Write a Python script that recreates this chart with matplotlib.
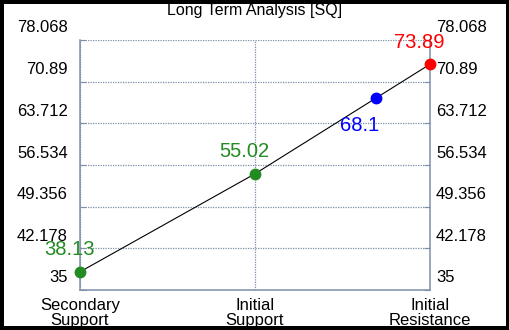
import matplotlib
matplotlib.use("Agg")
import matplotlib.pyplot as plt
from matplotlib.transforms import blended_transform_factory, ScaledTranslation

plt.rcParams["font.family"] = ["Liberation Sans", "DejaVu Sans"]

# ── Data ──────────────────────────────────────────────────────────────────────
categories = ["Secondary\nSupport", "Initial\nSupport", "Initial\nResistance"]
level_values = [38.13, 55.02, 73.89]
level_colors = ["#228b22", "#228b22", "red"]
current_value = 68.1
current_color = "blue"
y_ticks = [35, 42.178, 49.356, 56.534, 63.712, 70.89, 78.068]
y_labels = ["35", "42.178", "49.356", "56.534", "63.712", "70.89", "78.068"]
title = "Long Term Analysis [SQ]"

AXIS_COLOR = "#7f8fa9"

# current price sits on the segment between initial support and resistance
cur_x = 1 + (current_value - level_values[1]) / (level_values[2] - level_values[1])

fig = plt.figure(figsize=(5.1, 3.3), dpi=100)
fig.patch.set_facecolor("white")
fig.patch.set_edgecolor("black")
fig.patch.set_linewidth(4.5)
ax = fig.add_axes([80 / 510, 40 / 330, 350 / 510, 250 / 330])

xs = [0, 1, cur_x, 2]
ys = [level_values[0], level_values[1], current_value, level_values[2]]
ax.plot(xs, ys, color="black", lw=0.8, zorder=3)

for i, (v, c) in enumerate(zip(level_values, level_colors)):
    ax.plot(i, v, "o", color=c, ms=7.5, zorder=4, clip_on=False)
    ax.annotate(f"{v:.2f}", (i, v), xytext=(-11, 22), textcoords="offset pixels",
                ha="center", va="center", color=c, fontsize=14.5)
ax.plot(cur_x, current_value, "o", color=current_color, ms=7.5, zorder=4)
ax.annotate(f"{current_value:g}", (cur_x, current_value), xytext=(-17, -28),
            textcoords="offset pixels", ha="center", va="center",
            color=current_color, fontsize=14.5)

ax.set_xlim(0, 2)
ax.set_ylim(y_ticks[0], y_ticks[-1])
ax.set_xticks(range(len(categories)))
ax.set_xticklabels(categories, fontsize=12, linespacing=0.95)
ax.set_yticks(y_ticks)
ax.set_yticklabels([])
ax.tick_params(axis="both", direction="in", length=4, color=AXIS_COLOR,
               right=True, pad=5)
ax.tick_params(axis="x", length=0, pad=6)

ax.grid(True, color=AXIS_COLOR, linestyle=(0, (1, 1)), lw=0.9)
for side in ["left", "right", "bottom"]:
    ax.spines[side].set_color(AXIS_COLOR)
    ax.spines[side].set_linewidth(1.1)
ax.spines["top"].set_visible(False)

# y labels sit above their gridlines on both sides
base = blended_transform_factory(ax.transAxes, ax.transData)
left_t = base + ScaledTranslation(-0.12, 0.135, fig.dpi_scale_trans)
right_t = base + ScaledTranslation(0.06, 0.135, fig.dpi_scale_trans)
for v, s in zip(y_ticks, y_labels):
    ax.text(0, v, s, transform=left_t, ha="right", va="center_baseline", fontsize=12)
    ax.text(1, v, s, transform=right_t, ha="left", va="center_baseline", fontsize=12)

fig.text(0.5, 1 - 11 / 330, title, ha="center", va="center", fontsize=11.5)

fig.savefig("out.png", dpi=100, facecolor=fig.get_facecolor(),
            edgecolor=fig.get_edgecolor())
